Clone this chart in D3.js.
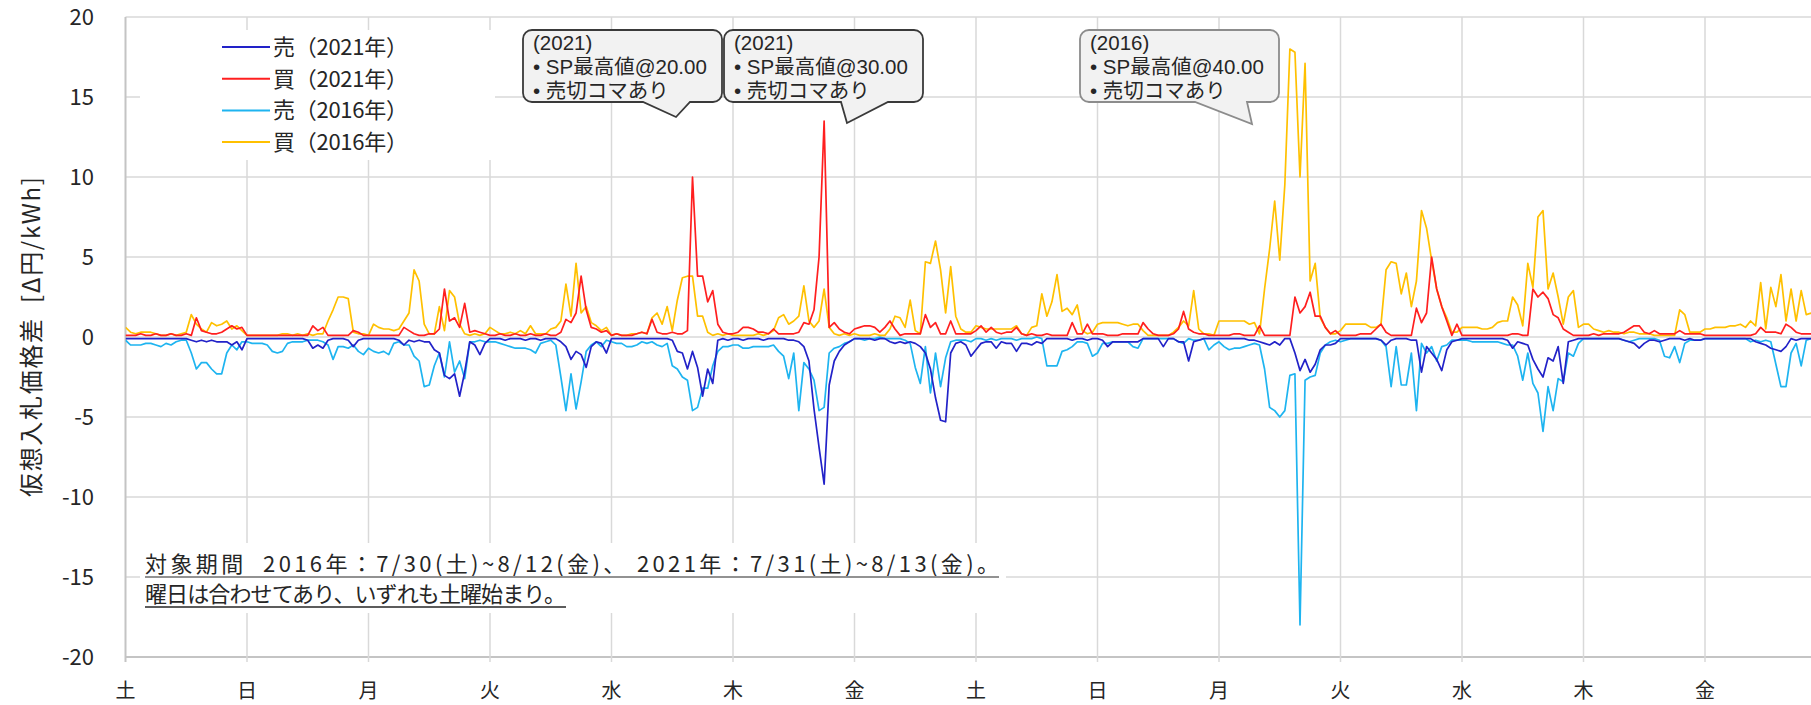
<!DOCTYPE html>
<html>
<head>
<meta charset="utf-8">
<script src="https://cdn.jsdelivr.net/npm/d3@7"></script>
<style>
html, body { margin: 0; padding: 0; background: #fff; overflow: hidden; }
svg { display: block; font-family: "Noto Sans CJK JP", "Noto Sans", sans-serif; }
.callout-text { font-family: "Liberation Sans", "Noto Sans CJK JP", sans-serif; }
</style>
</head>
<body>
<svg id="chart"></svg>
<script>
var width = 1811, height = 705;

// day-of-week tick labels (both periods start on Saturday)
var dayLabels = ["土", "日", "月", "火", "水", "木", "金", "土", "日", "月", "火", "水", "木", "金"];
var yTicks = [20, 15, 10, 5, 0, -5, -10, -15, -20];
var seriesNames = ["売（2021年）", "買（2021年）", "売（2016年）", "買（2016年）"];
var seriesColors = ["#2222c8", "#ff1f1f", "#1eb4f0", "#ffc000"];

// hourly values, one row per day [円/kWh]
var sell2021 = [
  [-0.1,-0.1,-0.1,-0.1,-0.1,-0.1,-0.1,-0.1,-0.1,-0.1,-0.1,-0.1,-0.1,-0.2,-0.3,-0.2,-0.3,-0.2,-0.3,-0.3,-0.3,-0.5,-0.3,-0.8],
  [-0.1,-0.1,-0.1,-0.1,-0.1,-0.1,-0.1,-0.1,-0.1,-0.1,-0.1,-0.1,-0.2,-0.7,-0.5,-0.7,-0.2,-0.1,-0.1,-0.1,-0.2,-0.6,-0.2,-0.1],
  [-0.1,-0.1,-0.1,-0.1,-0.1,-0.1,-0.2,-0.5,-0.2,-0.3,-0.2,-0.3,-0.3,-0.8,-1.0,-2.4,-2.6,-2.3,-3.7,-2.2,-0.3,-0.5,-1.1,-0.4],
  [-0.1,-0.1,-0.1,-0.2,-0.1,-0.1,-0.1,-0.2,-0.1,-0.1,-0.2,-0.1,-0.1,-0.1,-0.3,-0.6,-1.4,-0.9,-1.1,-1.9,-0.6,-0.3,-0.4,-1.0],
  [-0.1,-0.1,-0.1,-0.1,-0.1,-0.1,-0.1,-0.1,-0.1,-0.1,-0.1,-0.1,-0.2,-0.9,-1.0,-2.0,-0.9,-1.9,-3.7,-2.0,-2.9,-0.2,-0.1,-0.2],
  [-0.1,-0.1,-0.2,-0.1,-0.1,-0.1,-0.2,-0.1,-0.1,-0.1,-0.1,-0.2,-0.2,-0.3,-0.6,-1.5,-4.5,-6.9,-9.2,-3.0,-1.5,-0.9,-0.5,-0.3],
  [-0.1,-0.1,-0.1,-0.1,-0.2,-0.1,-0.1,-0.3,-0.4,-0.3,-0.4,-0.3,-0.4,-0.6,-1.0,-2.0,-3.8,-5.2,-5.3,-1.0,-0.4,-0.3,-0.5,-1.2],
  [-0.8,-0.4,-0.3,-0.3,-0.7,-0.3,-0.4,-0.4,-0.9,-0.4,-0.4,-0.5,-0.3,-0.4,-0.1,-0.1,-0.1,-0.1,-0.1,-0.2,-0.1,-0.1,-0.2,-0.1],
  [-0.1,-0.2,-0.6,-0.3,-0.3,-0.3,-0.3,-0.3,-0.3,-0.1,-0.1,-0.1,-0.1,-0.6,-0.1,-0.1,-0.3,-0.3,-1.5,-0.3,-0.2,-0.1,-0.1,-0.1],
  [-0.1,-0.1,-0.1,-0.1,-0.1,-0.1,-0.2,-0.2,-0.3,-0.4,-0.5,-0.3,-0.5,-0.1,-0.1,-1.0,-2.1,-1.4,-2.2,-1.7,-0.8,-0.5,-0.5,-0.4],
  [-0.1,-0.1,-0.1,-0.1,-0.1,-0.1,-0.1,-0.1,-0.2,-0.5,-0.2,-0.1,-0.1,-0.1,-0.2,-0.2,-2.2,-0.6,-1.0,-1.4,-2.1,-0.8,-0.3,-0.2],
  [-0.1,-0.1,-0.1,-0.1,-0.1,-0.1,-0.1,-0.1,-0.1,-0.2,-0.7,-0.3,-0.4,-0.5,-1.4,-2.0,-2.5,-1.3,-1.5,-0.6,-2.9,-0.3,-0.2,-0.1],
  [-0.1,-0.1,-0.1,-0.1,-0.1,-0.1,-0.1,-0.1,-0.2,-0.3,-0.4,-0.7,-0.4,-0.2,-0.2,-0.3,-0.2,-0.1,-0.1,-0.1,-0.2,-0.1,-0.2,-0.2],
  [-0.1,-0.1,-0.1,-0.1,-0.1,-0.1,-0.1,-0.1,-0.1,-0.1,-0.3,-0.4,-0.5,-0.7,-0.8,-0.9,-0.6,-0.1,-0.2,-0.1,-0.1,-0.1,-0.1,-0.1]
];

var buy2021 = [
  [0.1,0.1,0.1,0.2,0.1,0.1,0.2,0.1,0.1,0.2,0.1,0.1,0.2,0.1,1.2,0.4,0.3,0.2,0.2,0.3,0.5,0.7,0.5,0.6],
  [0.1,0.1,0.1,0.1,0.1,0.1,0.1,0.1,0.1,0.1,0.1,0.1,0.1,0.7,0.4,0.6,0.1,0.1,0.1,0.1,0.1,0.4,0.3,0.1],
  [0.1,0.1,0.1,0.1,0.1,0.1,0.1,0.6,0.4,0.2,0.1,0.1,0.2,0.2,0.5,3.0,1.0,1.2,0.6,2.1,0.3,0.4,0.3,0.2],
  [0.1,0.1,0.2,0.1,0.1,0.2,0.1,0.1,0.2,0.1,0.1,0.2,0.1,0.1,0.3,1.1,0.9,1.5,3.8,1.7,0.6,0.5,0.3,0.4],
  [0.1,0.2,0.1,0.1,0.1,0.2,0.3,0.2,1.1,0.3,0.2,0.2,0.3,0.2,0.2,0.4,10.0,3.8,3.8,2.2,2.9,0.8,0.3,0.2],
  [0.2,0.3,0.6,0.6,0.5,0.3,0.3,0.2,0.5,0.2,0.2,0.2,0.2,0.3,0.9,0.8,1.7,5.0,13.5,0.6,0.9,0.5,0.3,0.2],
  [0.5,0.6,0.7,0.7,0.6,0.3,0.6,1.0,0.5,0.1,0.2,0.2,0.2,0.2,1.4,0.6,0.9,0.2,0.2,1.0,0.2,0.2,0.2,0.2],
  [0.4,0.7,0.3,0.6,0.3,0.2,0.3,0.3,0.6,0.2,0.1,0.2,0.1,0.1,0.2,0.1,0.1,0.1,0.1,0.9,0.2,0.2,0.8,0.2],
  [0.2,0.2,0.1,0.1,0.1,0.2,0.2,0.2,0.2,0.9,0.5,0.2,0.1,0.1,0.1,0.2,0.5,1.6,0.5,0.3,0.2,0.2,0.1,0.1],
  [0.1,0.1,0.1,0.2,0.2,0.1,0.1,0.1,0.7,0.1,0.1,0.1,0.1,0.1,0.1,2.5,1.5,1.9,2.8,1.3,1.3,0.6,0.2,0.4],
  [0.1,0.1,0.1,0.1,0.2,0.2,0.2,0.5,0.8,0.3,0.1,0.1,0.1,0.1,0.1,1.8,0.9,1.5,5.0,3.0,1.9,1.0,0.1,0.8],
  [0.1,0.1,0.1,0.1,0.1,0.1,0.1,0.1,0.1,0.1,0.2,0.2,0.1,0.1,3.0,2.5,2.8,2.4,1.4,1.2,0.5,0.3,0.1,0.1],
  [0.1,0.1,0.2,0.1,0.2,0.2,0.2,0.2,0.3,0.5,0.7,0.7,0.3,0.2,0.4,0.2,0.2,0.2,0.2,0.4,0.2,0.2,0.2,0.2],
  [0.1,0.1,0.1,0.1,0.1,0.1,0.1,0.1,0.1,0.1,0.2,0.6,0.3,0.3,0.3,0.2,0.8,0.6,0.3,0.2,0.2,0.2,0.2,0.2]
];

var sell2016 = [
  [-0.2,-0.5,-0.5,-0.5,-0.4,-0.4,-0.5,-0.6,-0.4,-0.5,-0.3,-0.2,-0.2,-1.0,-2.0,-1.6,-1.6,-2.0,-2.3,-2.3,-1.0,-0.5,-0.8,-0.3],
  [-0.3,-0.4,-0.4,-0.4,-0.5,-0.9,-1.0,-0.9,-0.4,-0.3,-0.3,-0.3,-0.2,-0.2,-0.2,-0.3,-0.5,-1.4,-0.6,-0.6,-0.7,-0.5,-0.9,-1.1],
  [-0.7,-0.9,-1.0,-0.9,-1.1,-0.4,-0.3,-0.5,-0.5,-1.2,-1.5,-3.1,-3.0,-1.8,-1.0,-2.5,-0.3,-2.2,-1.5,-2.6,-0.3,-0.3,-0.2,-0.3],
  [-0.3,-0.3,-0.4,-0.5,-0.6,-0.7,-0.7,-0.7,-0.8,-1.0,-0.4,-0.3,-0.2,-0.5,-2.5,-4.6,-2.3,-4.5,-2.8,-0.9,-0.5,-0.3,-0.6,-0.2],
  [-0.3,-0.4,-0.4,-0.6,-0.6,-0.5,-0.3,-0.4,-0.3,-0.5,-0.6,-0.4,-1.8,-2.0,-2.5,-2.7,-4.6,-4.4,-3.2,-3.2,-1.8,-0.9,-0.6,-0.6],
  [-0.5,-0.5,-0.7,-0.7,-0.6,-0.6,-0.6,-0.6,-0.5,-0.9,-1.2,-2.6,-1.0,-4.6,-1.6,-2.0,-2.7,-4.6,-4.4,-1.0,-0.7,-0.6,-0.4,-0.3],
  [-0.1,-0.1,-0.2,-0.1,-0.1,0.0,-0.1,-0.1,-0.1,-0.1,-0.2,-0.4,-1.9,-2.9,-0.6,-3.5,-1.0,-3.1,-1.3,-0.3,-0.2,-0.2,-0.2,-0.3],
  [-0.1,-0.1,-0.2,-0.1,-0.2,-0.1,-0.1,-0.1,-0.2,-0.1,-0.1,-0.1,0.0,-0.1,-1.8,-1.8,-1.8,-0.9,-0.8,-0.6,-0.3,-0.3,-0.4,-1.2],
  [-1.0,-0.4,-0.4,-0.3,-0.3,-0.3,-0.3,-0.6,-0.7,-0.1,-0.1,-0.1,-0.1,-0.1,-0.1,-0.1,-0.3,-0.4,-0.1,-0.2,-0.2,-0.1,-0.8,-0.5],
  [-0.3,-0.6,-0.8,-0.7,-0.7,-0.6,-0.5,-0.4,-0.5,-2.0,-4.4,-4.6,-5.0,-4.6,-2.4,-2.3,-18.0,-2.7,-2.5,-2.4,-1.0,-0.5,-0.3,-0.2],
  [-0.3,-0.2,-0.1,-0.1,-0.1,-0.1,-0.1,-0.1,-0.2,-0.6,-3.1,-0.6,-3.0,-3.0,-1.0,-4.6,-0.4,-1.0,-0.6,-1.5,-0.6,-0.5,-0.2,-0.2],
  [-0.2,-0.2,-0.3,-0.3,-0.3,-0.3,-0.3,-0.3,-0.4,-0.5,-0.5,-1.2,-2.7,-1.0,-2.9,-3.5,-5.9,-3.1,-4.6,-2.6,-2.8,-1.0,-1.2,-0.4],
  [-0.1,-0.1,-0.1,-0.1,-0.1,-0.1,-0.1,-0.1,-0.2,-0.3,-0.2,-0.1,-0.1,-0.1,-0.1,-0.2,-1.2,-1.3,-0.6,-1.6,-0.4,-0.2,-0.2,-0.2],
  [-0.1,-0.1,-0.1,-0.1,-0.1,-0.1,-0.1,-0.1,-0.1,-0.3,-0.2,-0.3,-0.2,-0.3,-1.7,-3.1,-3.1,-1.0,-0.4,-1.8,-0.2,-0.1,-0.1,-0.1]
];

var buy2016 = [
  [0.6,0.3,0.2,0.3,0.3,0.3,0.2,0.1,0.1,0.2,0.1,0.2,0.3,1.4,0.8,0.5,0.3,0.9,0.7,0.8,1.0,0.5,0.7,0.4],
  [0.1,0.1,0.1,0.1,0.1,0.1,0.1,0.2,0.2,0.1,0.2,0.1,0.2,0.1,0.2,0.2,1.0,1.7,2.5,2.5,2.4,0.3,0.2,0.2],
  [0.1,0.8,0.6,0.5,0.5,0.4,0.5,1.0,1.5,4.2,3.5,0.8,0.2,0.2,1.9,0.4,2.9,2.5,0.8,0.2,0.1,0.2,0.1,0.2],
  [0.6,0.4,0.2,0.2,0.3,0.2,0.4,0.2,0.7,0.2,0.2,0.2,0.5,0.6,1.0,3.3,1.3,4.6,1.5,1.9,0.9,0.7,0.4,0.6],
  [0.1,0.2,0.1,0.1,0.2,0.2,0.3,0.2,1.2,1.5,0.8,1.9,0.4,2.3,3.7,3.8,3.8,1.3,1.3,0.3,0.1,0.2,0.1,0.2],
  [0.1,0.1,0.1,0.1,0.1,0.2,0.1,0.2,0.4,1.2,1.4,0.8,1.0,1.3,3.2,1.0,0.6,1.0,3.0,0.6,0.2,0.1,0.2,0.1],
  [0.2,0.1,0.1,0.1,0.2,0.1,0.1,0.5,1.3,1.2,0.6,2.3,0.4,0.2,4.7,4.6,6.0,4.2,1.5,4.4,1.3,0.5,0.3,0.3],
  [0.7,0.6,0.5,0.5,0.5,0.5,0.5,0.5,0.7,0.2,0.1,0.6,0.7,2.7,1.3,2.2,3.9,1.6,1.8,1.4,2.0,0.4,0.2,0.3],
  [0.8,0.9,0.9,0.9,0.9,0.8,0.7,0.8,0.8,0.4,0.1,0.1,0.1,0.1,0.1,0.3,0.6,1.0,0.7,2.9,0.5,0.2,0.2,0.1],
  [1.0,1.0,1.0,1.0,1.0,1.0,0.8,0.9,0.2,3.0,5.5,8.5,4.8,9.5,18.0,17.8,10.0,17.1,3.5,4.6,1.2,0.6,0.2,0.2],
  [0.4,0.8,0.8,0.8,0.8,0.8,0.6,0.6,0.8,4.2,4.7,4.6,2.7,4.0,1.9,3.5,7.9,6.8,4.8,3.0,1.9,1.2,0.3,0.3],
  [0.6,0.6,0.6,0.6,0.5,0.5,0.6,0.9,1.0,1.0,2.5,2.0,0.7,4.6,3.1,7.5,7.9,3.0,4.0,2.5,0.8,2.5,2.9,0.6],
  [0.8,0.8,0.5,0.4,0.3,0.4,0.3,0.3,0.2,0.3,0.3,0.2,0.2,0.2,0.1,0.1,0.1,0.1,0.1,1.7,1.4,0.3,0.3,0.3],
  [0.5,0.5,0.6,0.6,0.6,0.7,0.7,0.8,0.6,1.0,0.7,3.4,0.5,3.1,1.9,3.9,1.0,3.0,1.0,2.9,1.4,1.5,1.2,1.0]
];

var calloutYears = ["(2021)", "(2021)", "(2016)"];
var calloutPeaks = ["• SP最高値@20.00", "• SP最高値@30.00", "• SP最高値@40.00"];
var calloutNote = "• 売切コマあり";
var noteLines = [
  "対象期間  2016年：7/30(土)~8/12(金)、 2021年：7/31(土)~8/13(金)。",
  "曜日は合わせてあり、いずれも土曜始まり。"
];
var yTitle = "仮想入札価格差  [Δ円/kWh]";

var svg = d3.select("#chart")
    .attr("width", width)
    .attr("height", height)
    .attr("viewBox", "0 0 " + width + " " + height);

svg.append("rect").attr("width", width).attr("height", height).attr("fill", "#fff");

var plotLeft = 125.5, plotTop = 17, plotBottom = 657;
var dayWidth = 121.5;

var x = d3.scaleLinear()
    .domain([0, 14])
    .range([plotLeft, plotLeft + 14 * dayWidth]);

var y = d3.scaleLinear()
    .domain([-20, 20])
    .range([plotBottom, plotTop]);

// grid
var grid = svg.append("g");
grid.selectAll(".hgrid")
    .data(yTicks)
    .enter().append("line")
    .attr("x1", plotLeft).attr("x2", width)
    .attr("y1", d => y(d)).attr("y2", d => y(d))
    .attr("stroke", d => d === -20 ? "#c4c4c4" : "#d9d9d9")
    .attr("stroke-width", d => d === -20 ? 2 : 1.5);

grid.selectAll(".vgrid")
    .data(d3.range(1, 14))
    .enter().append("line")
    .attr("x1", d => x(d)).attr("x2", d => x(d))
    .attr("y1", plotTop).attr("y2", plotBottom + 5)
    .attr("stroke", "#d9d9d9")
    .attr("stroke-width", 1.5);

grid.append("line")
    .attr("x1", plotLeft).attr("x2", plotLeft)
    .attr("y1", plotTop).attr("y2", plotBottom + 5)
    .attr("stroke", "#c4c4c4")
    .attr("stroke-width", 2);

// y ticks
svg.append("g").selectAll("text")
    .data(yTicks)
    .enter().append("text")
    .attr("x", 94)
    .attr("y", d => y(d))
    .attr("dy", "0.36em")
    .attr("text-anchor", "end")
    .attr("font-size", 22)
    .attr("fill", "#262626")
    .text(d => d);

// x ticks (days)
svg.append("g").selectAll("text")
    .data(dayLabels)
    .enter().append("text")
    .attr("x", (d, i) => x(i))
    .attr("y", 691)
    .attr("dy", "0.36em")
    .attr("text-anchor", "middle")
    .attr("font-size", 20)
    .attr("fill", "#262626")
    .text(d => d);

// y title
svg.append("text")
    .attr("transform", "translate(31," + y(0) + ") rotate(-90)")
    .attr("dy", "0.36em")
    .attr("text-anchor", "middle")
    .attr("font-size", 24)
    .attr("fill", "#262626")
    .attr("textLength", 320)
    .attr("lengthAdjust", "spacing")
    .style("white-space", "pre")
    .text(yTitle);

// series
function toPoints(rows) {
    return rows.flat().map((v, i) => ({t: i / 24, v: v}));
}
var series = [
    {name: seriesNames[2], color: seriesColors[2], values: toPoints(sell2016)},
    {name: seriesNames[0], color: seriesColors[0], values: toPoints(sell2021)},
    {name: seriesNames[3], color: seriesColors[3], values: toPoints(buy2016)},
    {name: seriesNames[1], color: seriesColors[1], values: toPoints(buy2021)}
];

var line = d3.line()
    .x(d => x(d.t))
    .y(d => y(d.v));

svg.append("defs").append("clipPath").attr("id", "plotClip")
    .append("rect")
    .attr("x", plotLeft).attr("y", 0)
    .attr("width", width - plotLeft).attr("height", height);

svg.append("g")
    .attr("clip-path", "url(#plotClip)")
    .selectAll("path")
    .data(series)
    .enter().append("path")
    .attr("d", d => line(d.values))
    .attr("fill", "none")
    .attr("stroke", d => d.color)
    .attr("stroke-width", 1.7)
    .attr("stroke-linejoin", "round");

// legend
var legend = svg.append("g");
legend.append("rect")
    .attr("x", 140).attr("y", 30)
    .attr("width", 355).attr("height", 130)
    .attr("fill", "#fff");

var legendRows = legend.selectAll(".lg")
    .data(seriesNames)
    .enter().append("g")
    .attr("transform", (d, i) => "translate(222," + (47 + i * 31.7) + ")");

legendRows.append("line")
    .attr("x1", 0).attr("x2", 48)
    .attr("stroke", (d, i) => seriesColors[i])
    .attr("stroke-width", 2);

legendRows.append("text")
    .attr("x", 51)
    .attr("dy", "0.36em")
    .attr("font-size", 22)
    .attr("fill", "#262626")
    .attr("textLength", 135)
    .attr("lengthAdjust", "spacing")
    .text(d => d);

// callouts
var callouts = [
    {x: 523, y: 30, w: 199, h: 72, baseL: 643, baseR: 690, tipX: 676, tipY: 117, stroke: "#3a3a3a"},
    {x: 724, y: 30, w: 199, h: 72, baseL: 841, baseR: 888, tipX: 847, tipY: 123, stroke: "#3a3a3a"},
    {x: 1080, y: 30, w: 199, h: 72, baseL: 1195, baseR: 1247, tipX: 1252, tipY: 124, stroke: "#8c8c8c"}
];

function calloutPath(c) {
    var r = 9, x0 = c.x, y0 = c.y, x1 = c.x + c.w, y1 = c.y + c.h;
    var p = d3.path();
    p.moveTo(x0 + r, y0);
    p.lineTo(x1 - r, y0);
    p.arcTo(x1, y0, x1, y0 + r, r);
    p.lineTo(x1, y1 - r);
    p.arcTo(x1, y1, x1 - r, y1, r);
    p.lineTo(c.baseR, y1);
    p.lineTo(c.tipX, c.tipY);
    p.lineTo(c.baseL, y1);
    p.lineTo(x0 + r, y1);
    p.arcTo(x0, y1, x0, y1 - r, r);
    p.lineTo(x0, y0 + r);
    p.arcTo(x0, y0, x0 + r, y0, r);
    p.closePath();
    return p.toString();
}

var cg = svg.append("g").selectAll("g")
    .data(callouts)
    .enter().append("g");

cg.append("path")
    .attr("d", calloutPath)
    .attr("fill", "#f2f2f2")
    .attr("stroke", d => d.stroke)
    .attr("stroke-width", 1.8);

cg.each(function (d, i) {
    var g = d3.select(this);
    var lines = [calloutYears[i], calloutPeaks[i], calloutNote];
    g.selectAll("text")
        .data(lines)
        .enter().append("text")
        .attr("class", "callout-text")
        .attr("x", d.x + 10)
        .attr("y", (t, j) => d.y + 20 + j * 24)
        .attr("font-size", 20.5)
        .attr("fill", "#262626")
        .text(t => t);
});

// period note
var note = svg.append("g");
note.append("rect")
    .attr("x", 140).attr("y", 543)
    .attr("width", 866).attr("height", 70)
    .attr("fill", "#fff");

var noteWidths = [854, 421];
note.selectAll("text")
    .data(noteLines)
    .enter().append("text")
    .attr("x", 145)
    .attr("y", (d, i) => 572 + i * 30)
    .attr("font-size", 22)
    .attr("fill", "#262626")
    .attr("textLength", (d, i) => noteWidths[i])
    .attr("lengthAdjust", "spacing")
    .style("white-space", "pre")
    .text(d => d);

note.selectAll("line")
    .data(noteWidths)
    .enter().append("line")
    .attr("x1", 145).attr("x2", d => 145 + d)
    .attr("y1", (d, i) => 577 + i * 30).attr("y2", (d, i) => 577 + i * 30)
    .attr("stroke", (d, i) => i === 0 ? "#6e6e6e" : "#262626")
    .attr("stroke-width", 1.5);
</script>
</body>
</html>
